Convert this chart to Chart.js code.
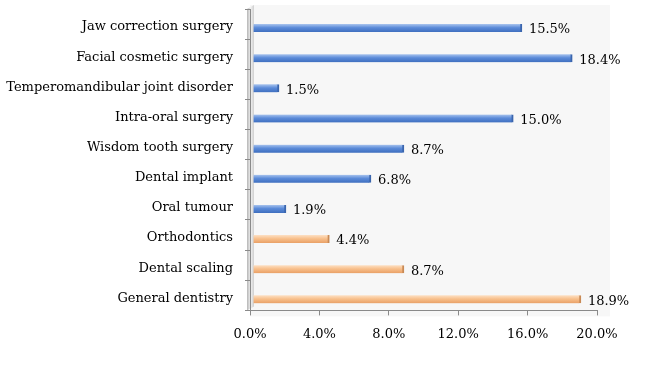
<!DOCTYPE html>
<html lang="en">
<head>
<meta charset="UTF-8">
<script src="https://cdn.jsdelivr.net/npm/chart.js@4.4.1/dist/chart.umd.min.js"></script>
<title>Treatments</title>
<style>
  body { margin: 0; background: #fff; }
  .box { width: 648px; height: 392px; }
</style>
</head>
<body>
<div class="box"><canvas id="grafico"></canvas></div>
<script>
    const categorias = [
        'Jaw correction surgery',
        'Facial cosmetic surgery',
        'Temperomandibular joint disorder',
        'Intra-oral surgery',
        'Wisdom tooth surgery',
        'Dental implant',
        'Oral tumour',
        'Orthodontics',
        'Dental scaling',
        'General dentistry'
    ];
    const valores = [15.5, 18.4, 1.5, 15.0, 8.7, 6.8, 1.9, 4.4, 8.7, 18.9];
    // s = surgical (blue), g = general (orange)
    const grupos = ['s', 's', 's', 's', 's', 's', 's', 'g', 'g', 'g'];
    const ticksX = [0, 4, 8, 12, 16, 20];

    const fonte = "'DejaVu Serif', serif";
    // fake 3d depth: bars sit a bit right and down of the axis
    const prof = { x: 3, y: 4 };

    const cores = {
        s: { top: '#a9c4ee', mid: '#5b8bd9', bot: '#3f6fbf', borda: '#3a65ad' },
        g: { top: '#fde0c4', mid: '#f8c08c', bot: '#e9a066', borda: '#c98a55' }
    };

    function corBarra(c) {
        const k = cores[grupos[c.dataIndex]];
        const y = c.chart.scales.y;
        if (!y || y.top === undefined) return k.mid;
        const py = y.getPixelForValue(c.dataIndex);
        const g = c.chart.ctx.createLinearGradient(0, py - 4, 0, py + 4);
        g.addColorStop(0, k.top);
        g.addColorStop(0.45, k.mid);
        g.addColorStop(1, k.bot);
        return g;
    }

    const fundo = {
        id: 'fundo',
        beforeDraw(chart) {
            const a = chart.chartArea;
            const ctx = chart.ctx;
            ctx.save();
            ctx.fillStyle = '#f7f7f7';
            ctx.fillRect(a.left, a.top - 4, a.right - a.left + 13, a.bottom - a.top + 10);
            // little wall next to the axis
            const w = ctx.createLinearGradient(a.left - 3, 0, a.left + 4, 0);
            w.addColorStop(0, '#b5b5b5');
            w.addColorStop(0.5, '#f2f2f2');
            w.addColorStop(1, '#cfcfcf');
            ctx.fillStyle = w;
            ctx.beginPath();
            ctx.moveTo(a.left - 3, a.top);
            ctx.lineTo(a.left + 4, a.top - 4);
            ctx.lineTo(a.left + 4, a.bottom - 4);
            ctx.lineTo(a.left - 3, a.bottom);
            ctx.closePath();
            ctx.fill();
            ctx.restore();
        },
        beforeDatasetsDraw(chart) {
            chart.ctx.save();
            chart.ctx.translate(prof.x, prof.y);
        },
        afterDatasetsDraw(chart) {
            chart.ctx.restore();
        }
    };

    const rotulos = {
        id: 'rotulos',
        afterDatasetsDraw(chart) {
            const ctx = chart.ctx;
            const meta = chart.getDatasetMeta(0);
            ctx.save();
            ctx.font = '13px ' + fonte;
            ctx.fillStyle = '#000';
            ctx.textBaseline = 'middle';
            meta.data.forEach((el, i) => {
                ctx.fillText(valores[i].toFixed(1) + '%', el.x + prof.x + 7, el.y + prof.y + 2);
            });
            ctx.restore();
        }
    };

    const config = {
        type: 'bar',
        data: {
            labels: categorias,
            datasets: [{
                data: valores,
                backgroundColor: corBarra,
                borderColor: (c) => cores[grupos[c.dataIndex]].borda,
                borderWidth: { top: 0, bottom: 0, left: 0, right: 2 },
                borderSkipped: false,
                barThickness: 8
            }]
        },
        options: {
            indexAxis: 'y',
            responsive: false,
            animation: false,
            layout: { padding: { left: 0, right: 51, top: 9, bottom: 39 } },
            plugins: { legend: { display: false }, tooltip: { enabled: false } },
            scales: {
                x: {
                    min: 0,
                    max: 20,
                    afterBuildTicks(s) { s.ticks = ticksX.map(v => ({ value: v })); },
                    afterFit(s) { s.paddingLeft = 0; s.paddingRight = 0; },
                    ticks: {
                        callback: (v) => v.toFixed(1) + '%',
                        font: { family: fonte, size: 13 },
                        color: '#000',
                        padding: 11,
                        maxRotation: 0
                    },
                    grid: { drawOnChartArea: false, tickLength: 5, color: '#8a8a8a' },
                    border: { color: '#8a8a8a' }
                },
                y: {
                    afterFit(s) { s.width = 250; s.paddingTop = 0; s.paddingBottom = 0; },
                    ticks: {
                        font: { family: fonte, size: 13 },
                        color: '#000',
                        padding: 12,
                        labelOffset: 3
                    },
                    grid: { drawOnChartArea: false, offset: true, tickLength: 5, color: '#8a8a8a' },
                    border: { color: '#8a8a8a' }
                }
            }
        },
        plugins: [fundo, rotulos]
    };

    const canvas = document.getElementById('grafico');
    canvas.width = 648;
    canvas.height = 392;
    new Chart(canvas, config);
</script>
</body>
</html>
